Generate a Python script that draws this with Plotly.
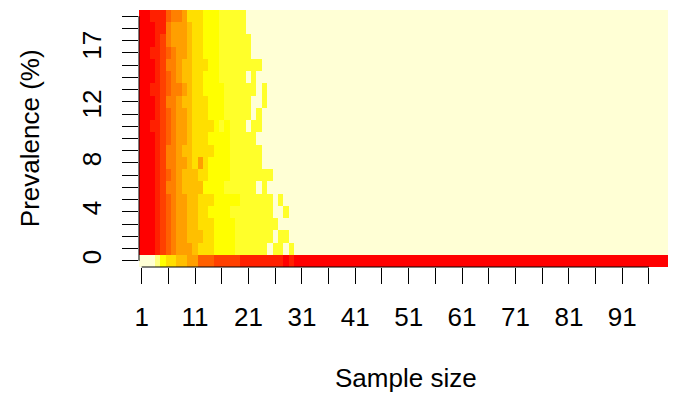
import plotly.graph_objects as go

# ---- data -------------------------------------------------------------
SAMPLE_SIZES = list(range(1, 101))          # x categories (sample size 1..100)
PREVALENCE_ROWS = list(range(0, 21))        # y rows (prevalence 0..20 %)

# R heat.colors(12)
HEAT_COLORS = ["#FF0000", "#FF2000", "#FF4000", "#FF6000", "#FF8000", "#FF9F00",
               "#FFBF00", "#FFDF00", "#FFFF00", "#FFFF2A", "#FFFF80", "#FFFFD5"]
LEVEL_CODES = "0123456789ab"   # one character per cell = colour level

TAIL_PALE = ("bbbbbbbbbb" "bbbbbbbbbb" "bbbbbbbbbb" "bbbbbbbbbb"
             "bbbbbbbbbb" "bbbbbbbbbb" "bbbbbbbbbb")
TAIL_RED = ("0000000000" "0000000000" "0000000000" "0000000000"
            "0000000000" "0000000000" "0000000000")

# rows listed from prevalence 0 (bottom) to 20 (top); columns = sample size 1..100
ROW_00 = "bbba877665" "5333222221" "1111111010" + TAIL_RED
ROW_01 = "0001234555" "6777888899" "9999b99b9b" + TAIL_PALE
ROW_02 = "0001234556" "6677888899" "99999b99bb" + TAIL_PALE
ROW_03 = "0001234556" "6777888899" "999999bbbb" + TAIL_PALE
ROW_04 = "0001234556" "6778888999" "99999bb9bb" + TAIL_PALE
ROW_05 = "0001234556" "6777888889" "99999b9bbb" + TAIL_PALE
ROW_06 = "0001244566" "6688889999" "99b9bbbbbb" + TAIL_PALE
ROW_07 = "0001234566" "6778888999" "99999bbbbb" + TAIL_PALE
ROW_08 = "0001244556" "7578888999" "999bbbbbbb" + TAIL_PALE
ROW_09 = "0001244566" "7777888999" "999bbbbbbb" + TAIL_PALE
ROW_10 = "0001234556" "7778888999" "99bbbbbbbb" + TAIL_PALE
ROW_11 = "0011234556" "7777898999" "b99bbbbbbb" + TAIL_PALE
ROW_12 = "0001234556" "7778889999" "9b9bbbbbbb" + TAIL_PALE
ROW_13 = "0001244566" "7778889999" "9bb9bbbbbb" + TAIL_PALE
ROW_14 = "0011234456" "7788889999" "99b9bbbbbb" + TAIL_PALE
ROW_15 = "0001234566" "7788899999" "b9bbbbbbbb" + TAIL_PALE
ROW_16 = "0001244566" "7778899999" "999bbbbbbb" + TAIL_PALE
ROW_17 = "0011234556" "7788899999" "9bbbbbbbbb" + TAIL_PALE
ROW_18 = "0001245556" "7788899999" "9bbbbbbbbb" + TAIL_PALE
ROW_19 = "0001145556" "7788899999" "bbbbbbbbbb" + TAIL_PALE
ROW_20 = "0011134457" "7788899999" "bbbbbbbbbb" + TAIL_PALE

ROWS = [ROW_00, ROW_01, ROW_02, ROW_03, ROW_04, ROW_05, ROW_06, ROW_07,
        ROW_08, ROW_09, ROW_10, ROW_11, ROW_12, ROW_13, ROW_14, ROW_15,
        ROW_16, ROW_17, ROW_18, ROW_19, ROW_20]

X_TICKS = [1, 6, 11, 16, 21, 26, 31, 36, 41, 46, 51, 56, 61, 66, 71, 76, 81, 86, 91, 96]
X_TICK_LABELS = ["1", "", "11", "", "21", "", "31", "", "41", "", "51", "", "61", "",
                 "71", "", "81", "", "91", ""]
Y_LABEL_POS = [0, 4, 8, 12.5, 17.3]
Y_LABELS = ["0", "4", "8", "12", "17"]

X_TITLE = "Sample size"
Y_TITLE = "Prevalence (%)"

# ---- figure -----------------------------------------------------------
z = [[LEVEL_CODES.index(ch) for ch in row] for row in ROWS]

n = len(HEAT_COLORS)
colorscale = []
for i, c in enumerate(HEAT_COLORS):
    colorscale.append([i / n, c])
    colorscale.append([(i + 1) / n, c])

FONT = "Liberation Sans, Arial, Helvetica, sans-serif"

fig = go.Figure()
fig.add_trace(go.Heatmap(x=SAMPLE_SIZES, y=PREVALENCE_ROWS, z=z,
                         colorscale=colorscale, zmin=-0.5, zmax=n - 0.5,
                         showscale=False, hoverinfo="skip"))
fig.add_trace(go.Scatter(x=[None], y=[None], yaxis="y2", showlegend=False,
                         hoverinfo="skip"))

# the page body adds an 8px margin, so the figure is 8px smaller than the window
fig.update_layout(
    width=668, height=386,
    margin=dict(l=131, r=3, t=2, b=127, pad=0, autoexpand=False),
    paper_bgcolor="white", plot_bgcolor="white",
    font=dict(family=FONT, size=26, color="black"),
    showlegend=False,
    xaxis=dict(range=[0.5, 100.5], tickmode="array", tickvals=X_TICKS,
               ticktext=X_TICK_LABELS, ticks="outside", ticklen=16, tickwidth=1,
               tickcolor="black", showgrid=False, zeroline=False, showline=False,
               automargin=False, ticklabelstandoff=11, tickfont=dict(size=26)),
    yaxis=dict(range=[-0.5, 20.5], tickmode="array", tickvals=PREVALENCE_ROWS,
               ticks="outside", ticklen=16, tickwidth=1, tickcolor="black",
               automargin=False, showticklabels=False, showgrid=False,
               zeroline=False, showline=False),
    yaxis2=dict(range=[-0.5, 20.5], overlaying="y", side="left", anchor="x",
                tickmode="array", tickvals=Y_LABEL_POS, ticktext=Y_LABELS,
                ticks="", tickangle=-90, showgrid=False, zeroline=False,
                automargin=False, showline=False, ticklabelstandoff=32,
                tickfont=dict(size=26)),
    shapes=[
        dict(type="line", xref="x", yref="paper", x0=X_TICKS[0], x1=X_TICKS[-1],
             y0=0, y1=0, line=dict(color="black", width=1), layer="above"),
        dict(type="line", xref="paper", yref="y", x0=0, x1=0,
             y0=PREVALENCE_ROWS[0], y1=PREVALENCE_ROWS[-1],
             line=dict(color="black", width=1), layer="above"),
    ],
    annotations=[
        dict(text=X_TITLE, xref="paper", yref="paper", x=0.5, y=-0.4319,
             xanchor="center", yanchor="middle", showarrow=False,
             font=dict(size=26)),
        dict(text=Y_TITLE, xref="paper", yref="paper", x=-0.2048, y=0.5,
             xanchor="center", yanchor="middle", textangle=-90, showarrow=False,
             font=dict(size=26)),
    ],
)

fig.write_html("out.html")
